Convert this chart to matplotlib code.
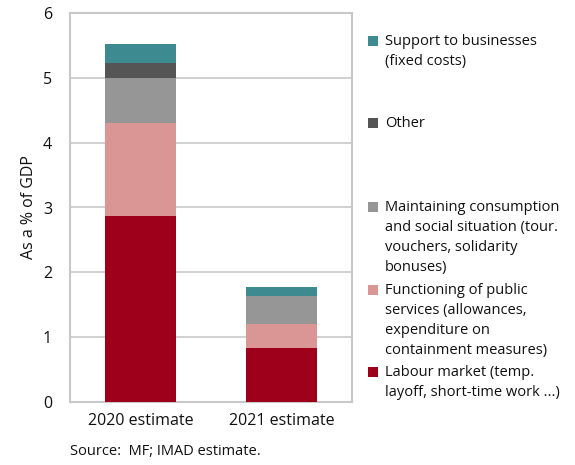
import matplotlib
matplotlib.use("Agg")
import matplotlib.pyplot as plt
from matplotlib.patches import Rectangle

categories = ["2020 estimate", "2021 estimate"]
labour = [2.87, 0.83]
public = [1.44, 0.38]
consumption = [0.69, 0.42]
other = [0.23, 0.0]
support = [0.29, 0.14]

series = [
    ("Labour market (temp.\nlayoff, short-time work ...)", labour, "#9E001C"),
    ("Functioning of public\nservices (allowances,\nexpenditure on\ncontainment measures)", public, "#D99694"),
    ("Maintaining consumption\nand social situation (tour.\nvouchers, solidarity\nbonuses)", consumption, "#969696"),
    ("Other", other, "#555555"),
    ("Support to businesses\n(fixed costs)", support, "#3E8A91"),
]

plt.rcParams['font.family'] = ['Open Sans', 'DejaVu Sans']
W, H = 575, 465
fig = plt.figure(figsize=(W / 100, H / 100), dpi=100)
ax = fig.add_axes([70 / W, 1 - 402 / H, 282 / W, 389 / H])

x = list(range(len(categories)))
bottom = [0.0] * len(categories)
for name, vals, col in series:
    ax.bar(x, vals, bottom=bottom, width=0.5, color=col, edgecolor="none", zorder=3)
    bottom = [b + v for b, v in zip(bottom, vals)]

ax.set_xlim(-0.5, 1.5)
ax.set_ylim(0, 6)
ax.set_yticks(range(0, 7))
ax.set_xticks(x)
ax.set_xticklabels(categories, fontsize=11.5)
ax.tick_params(axis="both", length=0, labelsize=11.5, colors="#111111")
ax.tick_params(axis="y", pad=13)
ax.tick_params(axis="x", pad=8)
ax.grid(axis="y", color="#C8C8C8", linewidth=1.2, zorder=0)
for s in ax.spines.values():
    s.set_color("#C8C8C8")
    s.set_linewidth(1.5)
ax.set_ylabel("As a % of GDP", fontsize=11.5, labelpad=4, color="#111111")

fig.text(70 / W, 1 - 451 / H, "Source:  MF; IMAD estimate.", fontsize=10.5, va="center", ha="left",
         color="#111111")

# legend (manual, positioned as in reference)
ys = [372, 290, 207, 123, 41]
for (name, vals, col), y in zip(series, ys):
    fig.patches.append(Rectangle((368 / W, 1 - (y + 5) / H), 10 / W, 10 / H,
                                 transform=fig.transFigure, facecolor=col, edgecolor="none"))
    fig.text(385 / W, 1 - (y - 7) / H, name, fontsize=10.5, va="top", ha="left",
             linespacing=1.45, color="#111111")

fig.savefig("out.png", dpi=100)
